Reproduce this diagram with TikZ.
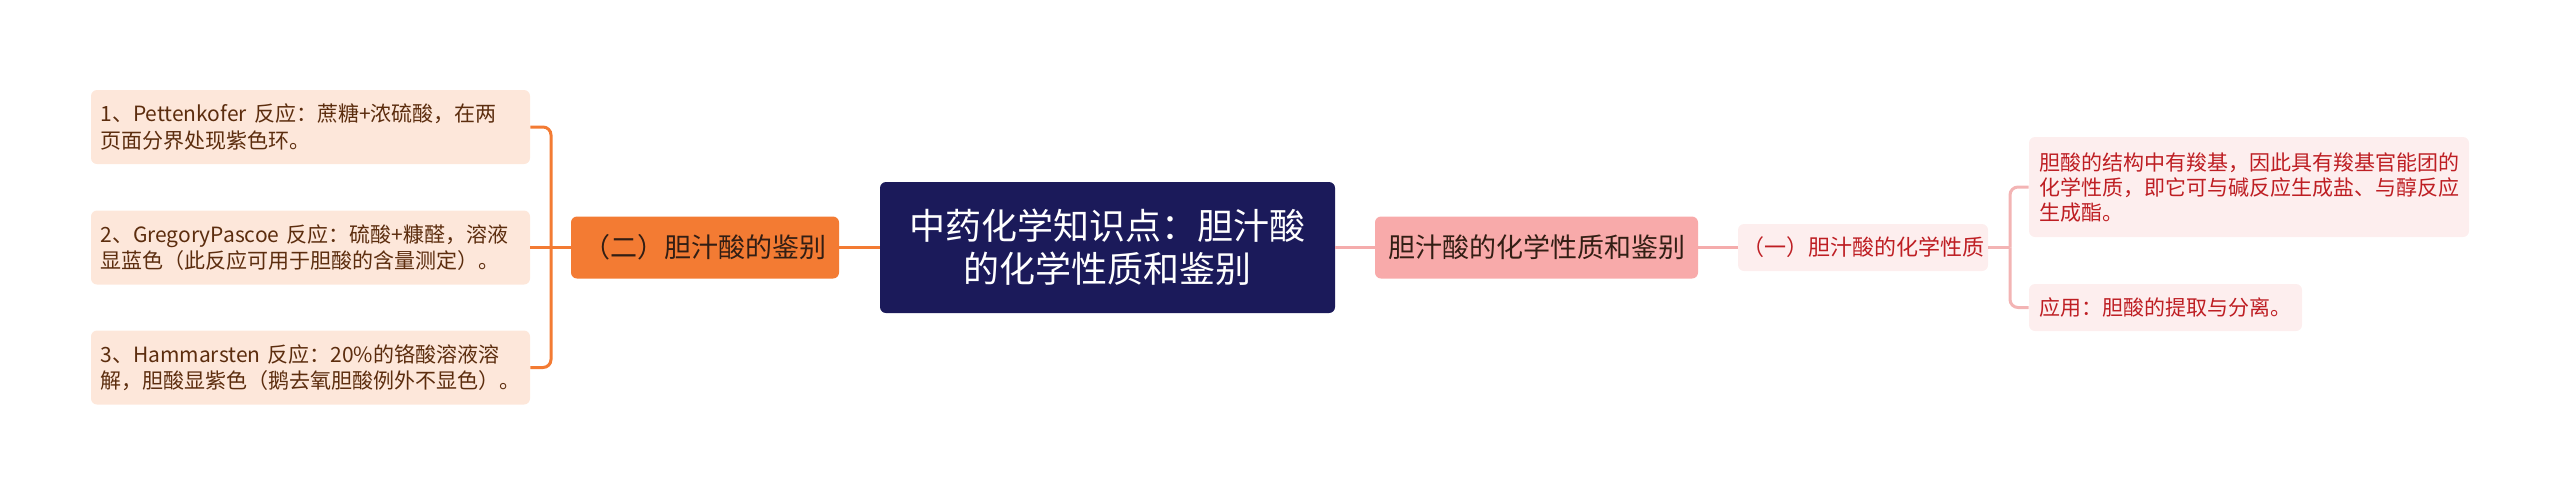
\documentclass[tikz,border=0pt]{standalone}
\usepackage{fontspec}
\newfontfamily\cjk{Noto Sans CJK SC}
\definecolor{rootblue}{RGB}{27,26,90}
\definecolor{orangemain}{RGB}{243,123,51}
\definecolor{peach}{RGB}{253,231,218}
\definecolor{browntext}{RGB}{92,45,14}
\definecolor{darktext}{RGB}{50,30,20}
\definecolor{pinkmain}{RGB}{248,170,170}
\definecolor{pinkline}{RGB}{245,172,172}
\definecolor{palepink}{RGB}{253,238,238}
\definecolor{redtext}{RGB}{190,30,35}
\definecolor{subpink}{RGB}{243,180,180}

\begin{document}
\begin{tikzpicture}[x=0.5pt, y=-0.5pt,
box/.style={rectangle, rounded corners=3pt, inner sep=0pt},
rootbox/.style={box, fill=rootblue, text=white, align=center, font=\cjk\fontsize{18}{21.5}\selectfont, minimum width=227.5pt, minimum height=65.5pt},
orangebox/.style={box, fill=orangemain, text=darktext, font=\cjk\fontsize{13.5}{16}\selectfont, minimum width=134pt, minimum height=31pt},
pinkbox/.style={box, fill=pinkmain, text=darktext, font=\cjk\fontsize{13.5}{16}\selectfont, minimum width=161.5pt, minimum height=31pt},
leftleaf/.style={box, fill=peach, text=browntext, align=left, font=\cjk\fontsize{10.5}{13.3}\selectfont, text width=210pt, inner xsep=4.75pt, minimum height=37pt},
subbox/.style={box, fill=palepink, text=redtext, font=\cjk\fontsize{11}{13}\selectfont, minimum width=125pt, minimum height=23.5pt},
rightleaf/.style={box, fill=palepink, text=redtext, align=left, font=\cjk\fontsize{10.5}{12.5}\selectfont, inner xsep=5pt, minimum height=23.5pt},
orangeline/.style={draw=orangemain, line width=1.5pt},
rootpink/.style={draw=pinkline, line width=1.1pt},
subline/.style={draw=subpink, line width=1.5pt}]
\useasboundingbox (0,0) rectangle (2560,495);

% centre
\node[rootbox] (root) at (1107.5,247.5) {中药化学知识点：胆汁酸\\的化学性质和鉴别};

% left side
\node[orangebox] (ident) at (705,247.5) {（二）胆汁酸的鉴别};
\node[leftleaf] (l1) at (310.5,127) {1、Pettenkofer 反应：蔗糖+浓硫酸，在两\\页面分界处现紫色环。};
\node[leftleaf] (l2) at (310.5,247.5) {2、GregoryPascoe 反应：硫酸+糠醛，溶液\\显蓝色（此反应可用于胆酸的含量测定）。};
\node[leftleaf] (l3) at (310.5,367.5) {3、Hammarsten 反应：20\%的铬酸溶液溶\\解，胆酸显紫色（鹅去氧胆酸例外不显色）。};
\coordinate (lj) at (551,247.5);

% right side
\node[pinkbox] (chem) at (1536.5,247.5) {胆汁酸的化学性质和鉴别};
\node[subbox] (prop) at (1863,247.5) {（一）胆汁酸的化学性质};
\node[rightleaf, text width=210pt, minimum height=50pt] (r1) at (2249,187) {胆酸的结构中有羧基，因此具有羧基官能团的\\化学性质，即它可与碱反应生成盐、与醇反应\\生成酯。};
\node[rightleaf, text width=126.5pt] (r2) at (2165.5,307.5) {应用：胆酸的提取与分离。};
\coordinate (rj) at (2010,247.5);

% connectors
\draw[orangeline] (root.west) -- (ident.east);
\draw[orangeline] (ident.west) -- (l2.east);
\draw[orangeline, rounded corners=4pt] (lj) |- (l1.east);
\draw[orangeline, rounded corners=4pt] (lj) |- (l3.east);
\draw[rootpink] (root.east) -- (chem.west);
\draw[rootpink] (chem.east) -- (prop.west);
\draw[subline] (prop.east) -- (rj);
\draw[subline, rounded corners=4pt] (rj) |- (r1.west);
\draw[subline, rounded corners=4pt] (rj) |- (r2.west);
\end{tikzpicture}
\end{document}
